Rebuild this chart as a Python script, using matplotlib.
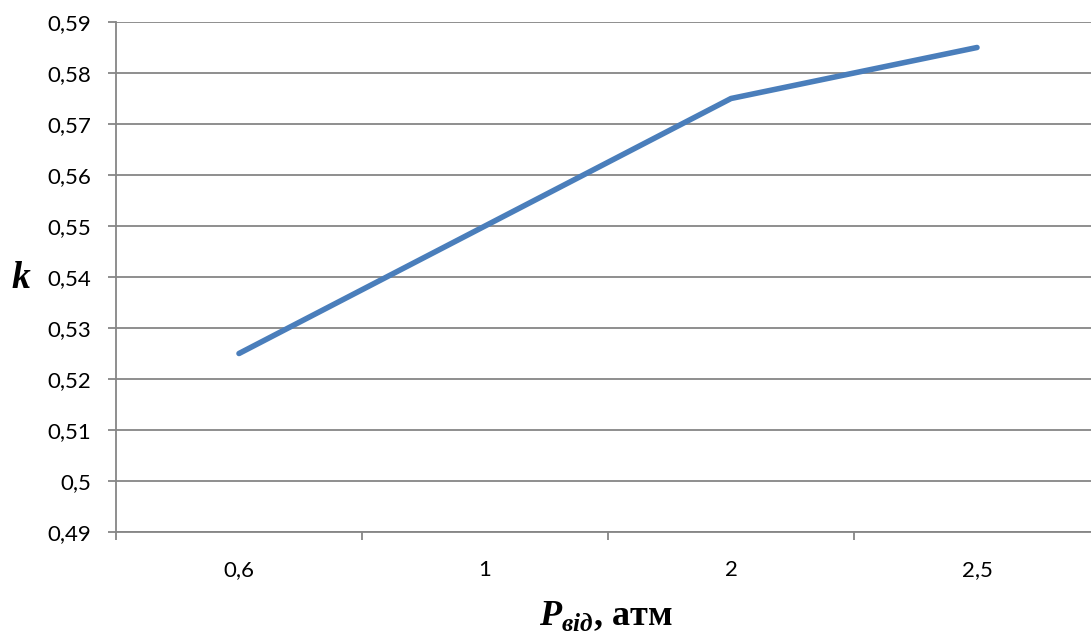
import matplotlib
matplotlib.use("Agg")
import matplotlib.pyplot as plt

# data
pressures = ["0,6", "1", "2", "2,5"]
k_values = [0.525, 0.55, 0.575, 0.585]
y_ticks = [0.49, 0.50, 0.51, 0.52, 0.53, 0.54, 0.55, 0.56, 0.57, 0.58, 0.59]

W, H = 1091, 632
plt.rcParams['mathtext.fontset'] = 'custom'
plt.rcParams['mathtext.bfit'] = 'Liberation Serif:bold:italic'
plt.rcParams['mathtext.rm'] = 'Liberation Serif'

fig = plt.figure(figsize=(W / 100, H / 100), dpi=100)
ax = fig.add_axes([116 / W, 1 - 532 / H, 1 - 116 / W, (532 - 22) / H])

xs = list(range(len(pressures)))
ax.plot(xs, k_values, color="#4A7EBB", linewidth=4.0, solid_capstyle="round", zorder=3)

ax.set_ylim(0.49, 0.59)
ax.set_yticks(y_ticks)
ax.set_yticklabels([("%g" % v).replace(".", ",") for v in y_ticks])
ax.set_xlim(-0.5, 3.5 - 9 / 246)
ax.set_xticks(xs)
ax.set_xticklabels(pressures)
ax.set_xticks([-0.5, 0.5, 1.5, 2.5], minor=True)

grid_col = "#868686"
ax.yaxis.grid(True, color=grid_col, linewidth=1.3)
ax.set_axisbelow(True)
for side in ["top", "right"]:
    ax.spines[side].set_visible(False)
for side in ["left", "bottom"]:
    ax.spines[side].set_color(grid_col)
    ax.spines[side].set_linewidth(1.3)

ax.tick_params(axis="y", length=6, width=1.3, color=grid_col, pad=12, labelsize=16)
ax.tick_params(axis="x", which="major", length=0, pad=20, labelsize=16)
ax.tick_params(axis="x", which="minor", length=6, width=1.3, color=grid_col)
for lab in ax.get_xticklabels() + ax.get_yticklabels():
    lab.set_fontfamily("Lato")

fig.text(21 / W, 1 - 279 / H, "k", fontfamily="Liberation Serif", fontweight="bold",
         fontstyle="italic", fontsize=27, ha="center", va="center")
fig.text(606 / W, 1 - 625 / H, r"$\mathbfit{P}_{\mathbfit{від}}$, атм",
         fontfamily="Liberation Serif", fontweight="bold", fontsize=26,
         ha="center", va="baseline")

plt.savefig("out.png", dpi=100)
